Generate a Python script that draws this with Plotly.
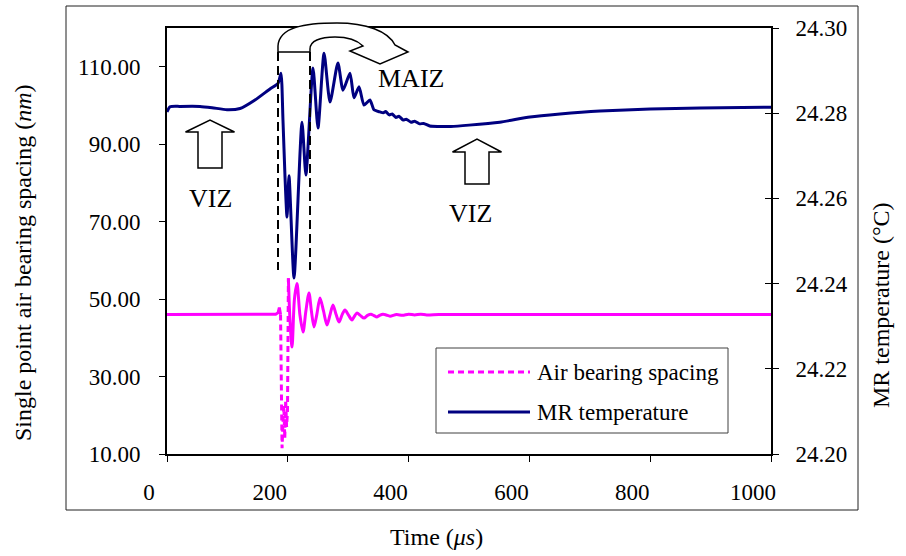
import plotly.graph_objects as go

# ---------------- data ----------------
time_air = [0, 50, 100, 150, 180, 184, 186, 188, 190.5, 192, 193.5, 195, 196.5, 198, 199.5, 201,
            203.5, 207, 211, 215.2, 220, 225.2, 230, 235.1, 239, 243.4, 248, 253.3, 259, 264.9,
            270, 274.8, 280, 284.8, 290, 294.7, 300, 306.3, 310, 314.6, 320, 326.2, 332, 337.7,
            342, 347.7, 352, 357.6, 363, 369.2, 380, 390, 400, 410, 420, 430, 450, 500, 600,
            700, 800, 900, 1000]
air_spacing = [46.0, 46.0, 46.1, 46.0, 46.1, 46.5, 47.8, 46.0, 11.5, 18.0, 22.5, 14.0, 24.0, 17.0, 21.0, 55.4,
               45.0, 37.6, 50.0, 54.0, 46.0, 41.5, 47.0, 51.6, 47.0, 42.8, 46.0, 50.3, 47.0, 43.3,
               46.0, 48.5, 46.0, 44.1, 46.0, 47.2, 46.0, 44.6, 45.5, 46.4, 45.8, 45.1, 45.8, 46.1,
               45.8, 45.4, 45.8, 46.1, 45.9, 45.6, 46.0, 45.8, 46.1, 45.9, 46.1, 45.9, 46.0, 46.0, 46.0,
               46.0, 46.0, 46.0, 46.0]

time_mr = [0, 5, 21.5, 54.6, 74.5, 99.3, 121, 145.7, 170.5, 183.8, 188.7, 192, 195.4, 198.7, 202,
           210.3, 223.5, 230, 241.7, 250, 260, 269.9, 283, 291.4, 303, 309.6, 317.9, 326.2, 336,
           342.7, 352.6, 358, 362, 368, 373, 379, 384, 391, 396, 404, 410, 418, 425, 435, 450,
           470, 500, 551, 601, 650.7, 717, 800, 882.5, 1000]
mr_temp = [24.2803, 24.2815, 24.2816, 24.2816, 24.2813, 24.2808, 24.2811, 24.2831, 24.2857, 24.2870,
           24.2894, 24.2784, 24.2650, 24.2556, 24.2653, 24.2413, 24.2779, 24.2655, 24.2906, 24.2765,
           24.2941, 24.2826, 24.2918, 24.2854, 24.2894, 24.2836, 24.2862, 24.2819, 24.2831, 24.2808,
           24.2803, 24.2801, 24.2804, 24.2796, 24.2798, 24.2790, 24.2793, 24.2784, 24.2786, 24.2779,
           24.2781, 24.2775, 24.2776, 24.2770, 24.2769, 24.2769, 24.2772, 24.2779, 24.2791, 24.2798,
           24.2805, 24.2810, 24.2812, 24.2814]

x_ticks = [0, 200, 400, 600, 800, 1000]
y_left_ticks = [10, 30, 50, 70, 90, 110]
y_right_ticks = [24.20, 24.22, 24.24, 24.26, 24.28, 24.30]

# ---------------- layout geometry ----------------
W_FIG, H_FIG = 906, 556
L, R, T, B = 167, 771, 28, 454
PW, PH = R - L, B - T
FONT = "Liberation Serif"


def px(x):
    return (x - L) / PW


def py(y):
    return (B - y) / PH


def poly(points):
    s = "M " + " L ".join(f"{px(x):.5f},{py(y):.5f}" for x, y in points)
    return s + " Z"


i0 = time_air.index(188)
i1 = time_air.index(201)

fig = go.Figure()

# air bearing spacing: solid-looking dense parts, dotted on the long spike
fig.add_trace(go.Scatter(x=time_air[:i0 + 1], y=air_spacing[:i0 + 1], mode="lines",
                         line=dict(color="#FF00FF", width=3), yaxis="y", showlegend=False))
fig.add_trace(go.Scatter(x=time_air[i0:i1 + 1], y=air_spacing[i0:i1 + 1], mode="lines",
                         line=dict(color="#FF00FF", width=3, dash="6px,4px"), yaxis="y",
                         showlegend=False))
fig.add_trace(go.Scatter(x=time_air[i1:], y=air_spacing[i1:], mode="lines",
                         line=dict(color="#FF00FF", width=3, shape="spline", smoothing=0.8),
                         yaxis="y", showlegend=False))

# MR temperature
fig.add_trace(go.Scatter(x=time_mr, y=mr_temp, mode="lines",
                         line=dict(color="#000080", width=3, shape="spline", smoothing=0.6),
                         yaxis="y2", showlegend=False))
# invisible copy to carry the inner half of the right-axis cross ticks
fig.add_trace(go.Scatter(x=time_mr, y=mr_temp, mode="lines", line=dict(width=0),
                         opacity=0, yaxis="y3", showlegend=False, hoverinfo="skip"))

shapes = []
# outer chart border
shapes.append(dict(type="rect", xref="paper", yref="paper", x0=px(66), x1=px(858), y0=py(510),
                   y1=py(6), line=dict(color="#202020", width=1), layer="below"))
# dashed markers of the MAIZ region
for xx in (278, 310):
    shapes.append(dict(type="line", xref="paper", yref="paper", x0=px(xx), x1=px(xx), y0=py(52),
                       y1=py(270), line=dict(color="black", width=2, dash="9px,5px")))
# curved arrow
curved = (f"M {px(278):.5f},{py(52):.5f} L {px(278):.5f},{py(46):.5f} "
          f"C {px(279):.5f},{py(27):.5f} {px(305):.5f},{py(23):.5f} {px(337):.5f},{py(23):.5f} "
          f"C {px(366):.5f},{py(23):.5f} {px(388):.5f},{py(31):.5f} {px(395):.5f},{py(45):.5f} "
          f"L {px(408):.5f},{py(52):.5f} L {px(380):.5f},{py(64):.5f} L {px(350):.5f},{py(51):.5f} "
          f"L {px(363):.5f},{py(46):.5f} "
          f"C {px(356):.5f},{py(39):.5f} {px(346):.5f},{py(37):.5f} {px(335):.5f},{py(37):.5f} "
          f"C {px(320):.5f},{py(37):.5f} {px(310):.5f},{py(41):.5f} {px(310):.5f},{py(49):.5f} "
          f"L {px(310):.5f},{py(52):.5f} Z")
shapes.append(dict(type="path", xref="paper", yref="paper", path=curved,
                   fillcolor="white", line=dict(color="black", width=1.5)))
# block up arrows
for cx, tip, base, bottom in ((210, 120, 132, 168), (477, 139, 152, 184)):
    p = poly([(cx - 12, bottom), (cx - 12, base), (cx - 24.5, base), (cx, tip),
              (cx + 24.5, base), (cx + 12, base), (cx + 12, bottom)])
    shapes.append(dict(type="path", xref="paper", yref="paper", path=p, fillcolor="white",
                       line=dict(color="black", width=1.5)))
# legend box and samples
shapes.append(dict(type="rect", xref="paper", yref="paper", x0=px(436), x1=px(728), y0=py(433),
                   y1=py(348), fillcolor="white", line=dict(color="#404040", width=1)))
shapes.append(dict(type="line", xref="paper", yref="paper", x0=px(448), x1=px(530), y0=py(372),
                   y1=py(372), line=dict(color="#FF00FF", width=3, dash="6px,4px")))
shapes.append(dict(type="line", xref="paper", yref="paper", x0=px(448), x1=px(530), y0=py(412),
                   y1=py(412), line=dict(color="#000080", width=3)))

ann = []


def text(x, y, s, size, angle=0, xanchor="center"):
    ann.append(dict(x=px(x), y=py(y), xref="paper", yref="paper", text=s, showarrow=False,
                    xanchor=xanchor, yanchor="middle", textangle=angle,
                    font=dict(family=FONT, size=size, color="black")))


text(210, 198, "VIZ", 26)
text(470, 213, "VIZ", 26)
text(411, 79, "MAIZ", 26)
text(535, 372, "Air bearing spacing", 23, xanchor="left")
text(535, 412, "MR temperature", 23, xanchor="left")
text(23, 263, "Single point air bearing spacing (<i>nm</i>)", 24, angle=-90)
text(881, 305, "MR temperature (°C)", 24, angle=-90)
text(436, 537, "Time (<i>μs</i>)", 24)

axis_common = dict(showline=True, linecolor="black", linewidth=2, ticks="outside", ticklen=6,
                   tickcolor="black", tickwidth=1, showgrid=False, zeroline=False,
                   tickfont=dict(family=FONT, size=23, color="black"))

fig.update_layout(
    width=W_FIG, height=H_FIG, autosize=False,
    font=dict(family=FONT, color="black"),
    margin=dict(l=L, r=W_FIG - R, t=T, b=H_FIG - B, pad=0),
    paper_bgcolor="white", plot_bgcolor="white",
    xaxis=dict(range=[0, 1000], tickvals=x_ticks, mirror=True, ticklabelshift=-18,
               ticklabelstandoff=10, **axis_common),
    yaxis=dict(range=[10, 120], tickvals=y_left_ticks, tickformat=".2f", ticklabelstandoff=14,
               **axis_common),
    yaxis2=dict(range=[24.20, 24.30], tickvals=y_right_ticks, tickformat=".2f", overlaying="y",
                side="right", ticklabelstandoff=12, **axis_common),
    yaxis3=dict(range=[24.20, 24.30], tickvals=y_right_ticks, overlaying="y", side="right",
                showline=False, ticks="inside", ticklen=6, tickcolor="black", tickwidth=1,
                showticklabels=False, showgrid=False, zeroline=False),
    shapes=shapes, annotations=ann, showlegend=False,
)

fig.write_html("out.html")
